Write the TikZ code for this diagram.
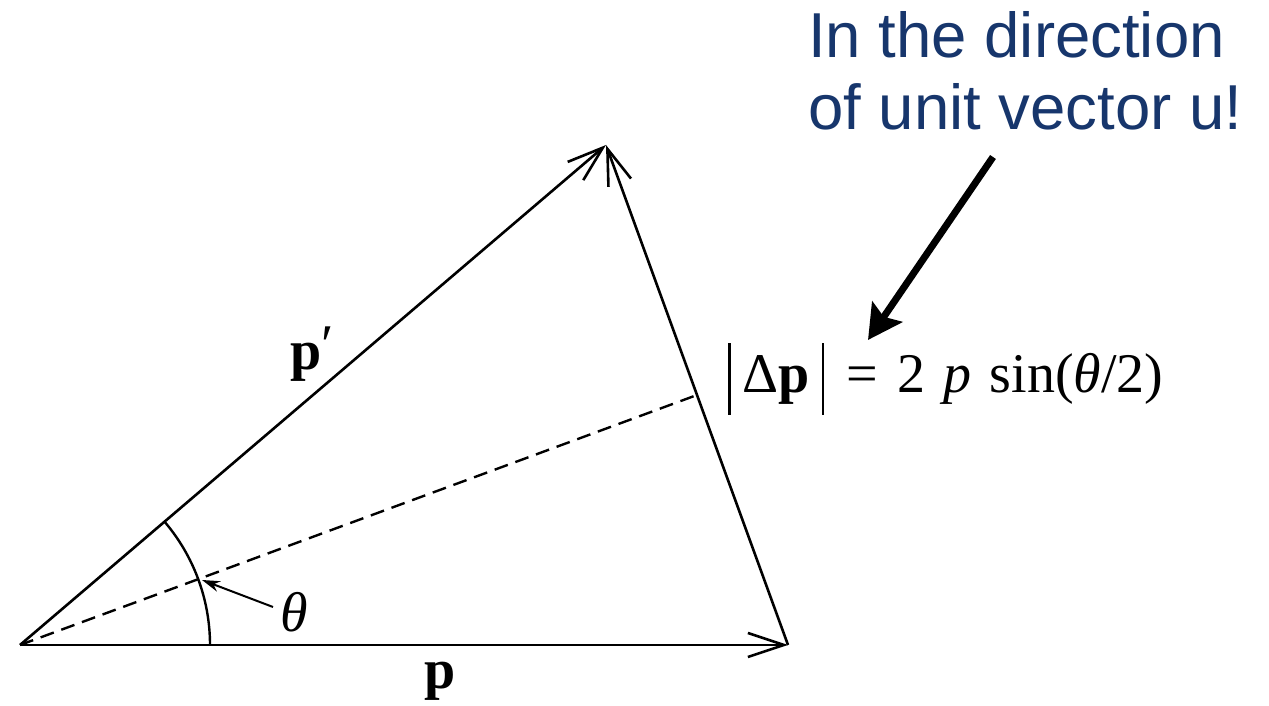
\documentclass[tikz,border=0pt]{standalone}
\usepackage{fontspec}
\setmainfont{Liberation Serif}
\newfontfamily\arialf{Liberation Sans}
\usetikzlibrary{arrows.meta,calc}
\definecolor{noteblue}{HTML}{17366C}
\tikzset{
  vec/.style={line width=2.6pt, -{Straight Barb[length=36pt,width=24pt,line width=2.6pt]}},
  thin/.style={line width=2.4pt},
  lbl/.style={inner sep=0pt, font=\fontsize{56}{60}\selectfont},
  note/.style={inner sep=0pt, anchor=base west, text=noteblue, font=\arialf\fontsize{63.5}{70}\selectfont},
}
\begin{document}
\begin{tikzpicture}[x=1pt,y=1pt]
\useasboundingbox (0,0) rectangle (1269,706);
\coordinate (O) at (20,61);
\coordinate (P) at (788,61);
\coordinate (Q) at (606,561);
\coordinate (M) at ($(P)!0.5!(Q)$);
% vectors
\draw[vec] (O) -- (P);
\draw[vec] (O) -- (Q);
\draw[vec] (P) -- (Q);
% dashed bisector
\draw[line width=2.4pt, dash pattern=on 14pt off 8pt] (O) -- (M);
% angle arc
\coordinate (A0) at (210,61);
\draw[thin] (A0) arc[start angle=0, end angle=40.6, radius=190];
% labels
\node[lbl] (theta) at (294,94) {\textit{θ}};
\coordinate (thtail) at (273,99);
\coordinate (thtip) at (202,126);
\draw[line width=2pt, -{Stealth[length=18pt,width=11pt]}] (thtail) -- (thtip);
\node[lbl] (pprime) at (312,352) {\textbf{p}\raisebox{6pt}{′}};
\node[lbl] (plabel) at (440,25) {\textbf{p}};
\node[lbl, anchor=base west] (formula) at (728,313)
  {\vrule width 2.4pt height 50pt depth 22pt\hspace{12pt}Δ\textbf{p}\hspace{12pt}\vrule width 2.4pt height 50pt depth 22pt\hspace{22pt}=\hspace{20pt}2\hspace{18pt}\textit{p}\hspace{18pt}sin(\textit{θ}/2)};
% note
\node[note] (note1) at (808,648) {In the direction};
\node[note] (note2) at (808,576) {of unit vector u!};
\coordinate (atail) at (993,549);
\coordinate (atip) at (868,366);
\draw[line width=7pt, -{Stealth[length=34pt,width=36pt,inset=6pt]}] (atail) -- (atip);
\end{tikzpicture}
\end{document}
